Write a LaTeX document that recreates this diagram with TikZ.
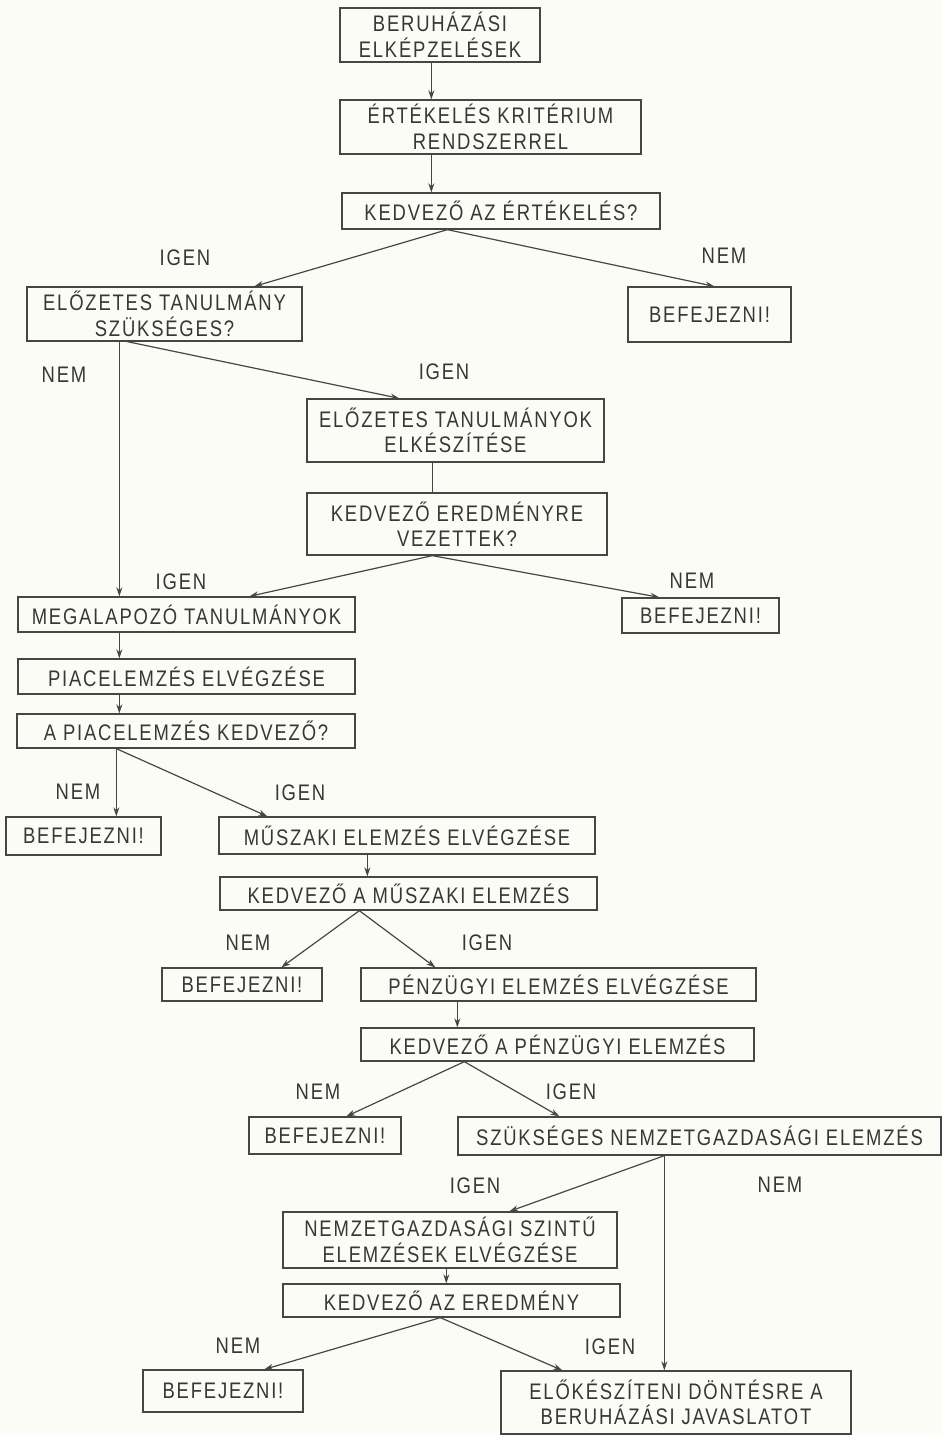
\documentclass[tikz,border=0pt]{standalone}
\usepackage{fontspec}
\setmainfont{Liberation Sans}[FakeStretch=0.82, LetterSpace=8]
\usetikzlibrary{arrows.meta,calc}
\definecolor{paper}{RGB}{252,252,247}
\definecolor{ink}{RGB}{70,70,70}
\definecolor{txt}{RGB}{55,55,55}
\begin{document}
\begin{tikzpicture}[x=1pt,y=-1pt,
  box/.style={draw=ink, line width=1.3pt, inner sep=0pt, align=center,
    text=txt, font=\fontsize{22.5}{25.5}\selectfont},
  lbl/.style={text=txt, inner sep=0pt, font=\fontsize{22.5}{25.5}\selectfont},
  conn/.style={draw=ink, line width=1.2pt},
  arr/.style={conn, -{Stealth[length=9pt,width=6pt]}}]
\fill[paper] (0,0) rectangle (942,1435);
\useasboundingbox (0,0) rectangle (942,1435);

% boxes
\node[box, minimum width=200, minimum height=54] (A) at (440,35) {BERUHÁZÁSI\\ELKÉPZELÉSEK};
\node[box, minimum width=301, minimum height=54] (B) at (490.5,127) {ÉRTÉKELÉS KRITÉRIUM\\RENDSZERREL};
\node[box, minimum width=318, minimum height=36] (C) at (501,211) {KEDVEZŐ AZ ÉRTÉKELÉS?};
\node[box, minimum width=275, minimum height=54] (D) at (164.5,314) {ELŐZETES TANULMÁNY\\SZÜKSÉGES?};
\node[box, minimum width=163, minimum height=55] (E) at (709.5,314.5) {BEFEJEZNI!};
\node[box, minimum width=297, minimum height=63] (F) at (455.5,430.5) {ELŐZETES TANULMÁNYOK\\ELKÉSZÍTÉSE};
\node[box, minimum width=300, minimum height=62] (G) at (457,524) {KEDVEZŐ EREDMÉNYRE\\VEZETTEK?};
\node[box, minimum width=337, minimum height=35] (H) at (186.5,614.5) {MEGALAPOZÓ TANULMÁNYOK};
\node[box, minimum width=157, minimum height=35] (I) at (700.5,615.5) {BEFEJEZNI!};
\node[box, minimum width=337, minimum height=35] (J) at (186.5,676.5) {PIACELEMZÉS ELVÉGZÉSE};
\node[box, minimum width=338, minimum height=34] (K) at (186,731) {A PIACELEMZÉS KEDVEZŐ?};
\node[box, minimum width=155, minimum height=38] (L) at (83.5,836) {BEFEJEZNI!};
\node[box, minimum width=376, minimum height=37] (M) at (407,835.5) {MŰSZAKI ELEMZÉS ELVÉGZÉSE};
\node[box, minimum width=377, minimum height=33] (N) at (408.5,893.5) {KEDVEZŐ A MŰSZAKI ELEMZÉS};
\node[box, minimum width=160, minimum height=33] (O) at (242,984.5) {BEFEJEZNI!};
\node[box, minimum width=395, minimum height=33] (P) at (558.5,984.5) {PÉNZÜGYI ELEMZÉS ELVÉGZÉSE};
\node[box, minimum width=393, minimum height=33] (Q) at (557.5,1044.5) {KEDVEZŐ A PÉNZÜGYI ELEMZÉS};
\node[box, minimum width=152, minimum height=37] (R) at (325,1135.5) {BEFEJEZNI!};
\node[box, minimum width=483, minimum height=38] (S) at (699.5,1136) {SZÜKSÉGES NEMZETGAZDASÁGI ELEMZÉS};
\node[box, minimum width=334, minimum height=56] (T) at (450,1240) {NEMZETGAZDASÁGI SZINTŰ\\ELEMZÉSEK ELVÉGZÉSE};
\node[box, minimum width=337, minimum height=33] (V) at (451.5,1300.5) {KEDVEZŐ AZ EREDMÉNY};
\node[box, minimum width=160, minimum height=42] (W) at (223,1391) {BEFEJEZNI!};
\node[box, minimum width=350, minimum height=63] (U) at (676,1402.5) {ELŐKÉSZÍTENI DÖNTÉSRE A\\BERUHÁZÁSI JAVASLATOT};

% labels
\node[lbl] (l1) at (185,258) {IGEN};
\node[lbl] (l2) at (724,256) {NEM};
\node[lbl] (l3) at (64,375) {NEM};
\node[lbl] (l4) at (444,372) {IGEN};
\node[lbl] (l5) at (181,582) {IGEN};
\node[lbl] (l6) at (692,581) {NEM};
\node[lbl] (l7) at (78,792) {NEM};
\node[lbl] (l8) at (300,793) {IGEN};
\node[lbl] (l9) at (248,943) {NEM};
\node[lbl] (l10) at (487,943) {IGEN};
\node[lbl] (l11) at (318,1092) {NEM};
\node[lbl] (l12) at (571,1092) {IGEN};
\node[lbl] (l13) at (475,1186) {IGEN};
\node[lbl] (l14) at (780,1185) {NEM};
\node[lbl] (l15) at (238,1346) {NEM};
\node[lbl] (l16) at (610,1347) {IGEN};

% branch points
\coordinate (cC) at ($(C.south west)+(106,0)$);
\coordinate (cG) at ($(G.south west)+(126,0)$);
\coordinate (cK) at ($(K.south west)+(100,0)$);
\coordinate (cN) at ($(N.south west)+(140,0)$);
\coordinate (cQ) at ($(Q.south west)+(104,0)$);
\coordinate (cS) at ($(S.south west)+(207,0)$);
\coordinate (cV) at ($(V.south west)+(158,0)$);

% connectors
\draw[arr] ($(A.south west)+(92,0)$) -- ($(B.north west)+(92,0)$);
\draw[arr] ($(B.south west)+(92,0)$) -- ($(C.north west)+(90,0)$);
\draw[arr] (cC) -- ($(D.north west)+(228,0)$);
\draw[arr] (cC) -- ($(E.north west)+(87,0)$);
\draw[arr] ($(D.south west)+(93,0)$) -- ($(H.north west)+(102,0)$);
\draw[arr] ($(D.south west)+(101,0)$) -- ($(F.north west)+(93,0)$);
\draw[conn] ($(F.south west)+(126,0)$) -- ($(G.north west)+(126,0)$);
\draw[arr] (cG) -- ($(H.north west)+(232,0)$);
\draw[arr] (cG) -- ($(I.north west)+(38,0)$);
\draw[arr] ($(H.south west)+(102,0)$) -- ($(J.north west)+(102,0)$);
\draw[arr] ($(J.south west)+(102,0)$) -- ($(K.north west)+(103,0)$);
\draw[arr] (cK) -- ($(L.north west)+(111,0)$);
\draw[arr] (cK) -- ($(M.north west)+(49,0)$);
\draw[arr] ($(M.south west)+(149,0)$) -- ($(N.north west)+(148,0)$);
\draw[arr] (cN) -- ($(O.north west)+(120,0)$);
\draw[arr] (cN) -- ($(P.north west)+(75,0)$);
\draw[arr] ($(P.south west)+(97,0)$) -- ($(Q.north west)+(97,0)$);
\draw[arr] (cQ) -- ($(R.north west)+(98,0)$);
\draw[arr] (cQ) -- ($(S.north west)+(102,0)$);
\draw[arr] (cS) -- ($(T.north west)+(227,0)$);
\draw[arr] (cS) -- ($(U.north west)+(164,0)$);
\draw[arr] ($(T.south west)+(164,0)$) -- ($(V.north west)+(164,0)$);
\draw[arr] (cV) -- ($(W.north west)+(122,0)$);
\draw[arr] (cV) -- ($(U.north west)+(62,0)$);
\end{tikzpicture}
\end{document}
